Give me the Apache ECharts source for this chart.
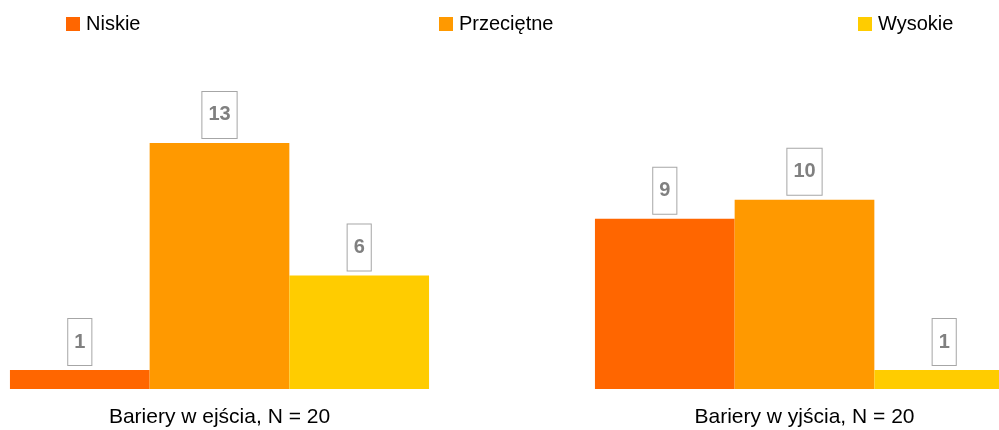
<!DOCTYPE html>
<html>
<head>
<meta charset="utf-8">
<script src="https://cdn.jsdelivr.net/npm/echarts@6/dist/echarts.min.js"></script>
<style>
html,body{margin:0;padding:0;background:#fff;}
#chart{width:999px;height:430px;}
</style>
</head>
<body>
<div id="chart"></div>
<script>
const categories = ['Bariery w ejścia, N = 20', 'Bariery w yjścia, N = 20'];
const seriesNames = ['Niskie', 'Przeciętne', 'Wysokie'];
const niskie = [1, 9];
const przecietne = [13, 10];
const wysokie = [6, 1];
const colors = ['#FF6600', '#FF9900', '#FFCC00'];
const values = [niskie, przecietne, wysokie];
const legendLefts = [66, 439, 858];
const FONT = "'Liberation Sans', Arial, sans-serif";

const chart = echarts.init(document.getElementById('chart'), null, {renderer: 'canvas'});
const option = {
  animation: false,
  backgroundColor: '#ffffff',
  legend: seriesNames.map((n, i) => ({
    data: [n],
    left: legendLefts[i],
    top: 14,
    itemWidth: 14,
    itemHeight: 14,
    icon: 'rect',
    itemGap: 0,
    padding: 0,
    textStyle: {fontFamily: FONT, fontSize: 20, color: '#000', lineHeight: 20, padding: [0, 0, 0, 1]}
  })),
  grid: {left: -73, width: 1170, top: 124, bottom: 41, containLabel: false, outerBoundsMode: 'none'},
  xAxis: {
    type: 'category',
    data: categories,
    axisLine: {show: false},
    axisTick: {show: false},
    axisLabel: {fontFamily: FONT, fontSize: 21, color: '#000', margin: 18, interval: 0}
  },
  yAxis: {
    type: 'value', min: 0, max: 14, show: false,
    splitLine: {show: false}
  },
  series: seriesNames.map((n, i) => ({
    name: n,
    type: 'bar',
    data: values[i],
    barWidth: 139.7,
    barGap: '0%',
    itemStyle: {color: colors[i]},
    label: {
      show: true,
      position: 'top',
      distance: 5,
      fontFamily: FONT,
      fontSize: 20,
      fontWeight: 'bold',
      color: '#808080',
      lineHeight: 20,
      backgroundColor: '#ffffff',
      borderColor: '#a6a6a6',
      borderWidth: 1,
      padding: [13, 6, 13, 6]
    }
  }))
};
chart.setOption(option);
</script>
</body>
</html>
